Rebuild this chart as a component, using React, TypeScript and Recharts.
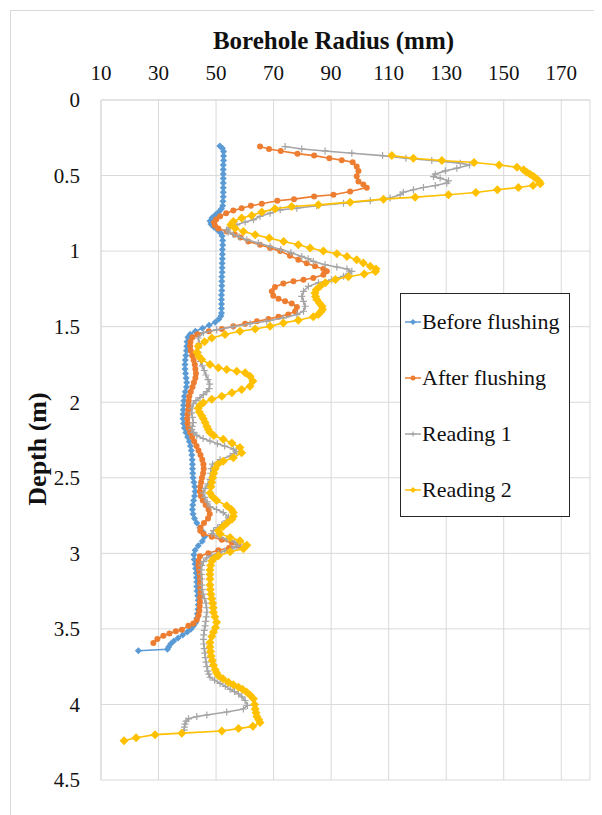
import { ScatterChart, Scatter, XAxis, YAxis, CartesianGrid, Legend } from "recharts";

// [depth (m), radius (mm)]
const BEFORE: [number, number][] = [
  [0.305, 51.3], [0.32, 52.2], [0.34, 52.6], [0.37, 52.6], [0.4, 52.6], [0.43, 52.5], [0.46, 52.5], [0.49, 52.5],
  [0.52, 52.5], [0.55, 52.5], [0.58, 52.5], [0.61, 52.5], [0.64, 52.5], [0.67, 52.4], [0.7, 52.3], [0.72, 51.9],
  [0.74, 51.0], [0.76, 49.8], [0.78, 48.6], [0.8, 47.9], [0.82, 48.2], [0.84, 49.2], [0.86, 50.5], [0.88, 51.6],
  [0.9, 52.1], [0.93, 52.3], [0.96, 52.3], [0.99, 52.2], [1.02, 52.2], [1.05, 52.2], [1.08, 52.1], [1.11, 52.1],
  [1.14, 52.1], [1.17, 52.0], [1.2, 52.0], [1.23, 52.0], [1.26, 52.0], [1.29, 51.9], [1.32, 51.9], [1.35, 51.9],
  [1.38, 51.9], [1.41, 51.9], [1.43, 51.7], [1.45, 51.0], [1.47, 49.7], [1.49, 47.6], [1.51, 45.3], [1.53, 42.8],
  [1.55, 41.0], [1.57, 40.2], [1.6, 39.9], [1.63, 39.8], [1.66, 39.7], [1.69, 39.5], [1.72, 39.3], [1.75, 39.2],
  [1.78, 39.2], [1.81, 39.4], [1.84, 39.6], [1.87, 39.8], [1.9, 39.7], [1.93, 39.3], [1.96, 39.0], [1.99, 38.8],
  [2.02, 38.7], [2.05, 38.6], [2.08, 38.5], [2.11, 38.5], [2.14, 38.7], [2.17, 39.0], [2.2, 39.5], [2.23, 40.1],
  [2.26, 40.7], [2.29, 41.1], [2.32, 41.4], [2.35, 41.6], [2.38, 41.7], [2.41, 41.8], [2.44, 41.8], [2.47, 41.9],
  [2.5, 42.0], [2.53, 42.3], [2.56, 42.6], [2.59, 42.7], [2.62, 42.5], [2.65, 42.2], [2.68, 41.9], [2.71, 41.8],
  [2.74, 42.0], [2.77, 42.5], [2.8, 43.3], [2.83, 44.4], [2.86, 45.5], [2.89, 46.0], [2.92, 45.2], [2.95, 43.8],
  [2.98, 42.7], [3.01, 42.3], [3.04, 42.4], [3.07, 42.7], [3.1, 42.9], [3.13, 43.1], [3.16, 43.2], [3.19, 43.3],
  [3.22, 43.3], [3.25, 43.4], [3.28, 43.6], [3.31, 43.8], [3.34, 43.8], [3.37, 43.7], [3.4, 43.5], [3.43, 43.3],
  [3.46, 42.9], [3.48, 42.2], [3.5, 41.3], [3.52, 40.0], [3.54, 38.4], [3.56, 36.8], [3.58, 35.3], [3.6, 34.2],
  [3.62, 33.5], [3.635, 33.1], [3.645, 23.0],
];

const AFTER: [number, number][] = [
  [0.308, 65.3], [0.324, 68.4], [0.337, 72.5], [0.355, 78.3], [0.368, 84.1], [0.385, 89.4], [0.398, 93.7],
  [0.412, 97.5], [0.44, 98.9], [0.47, 99.5], [0.505, 98.9], [0.54, 99.5], [0.56, 101.2], [0.58, 102.4],
  [0.606, 96.6], [0.627, 90.8], [0.638, 84.1], [0.656, 77.1], [0.667, 71.3], [0.687, 65.9], [0.7, 62.1],
  [0.716, 58.9], [0.731, 56.0], [0.749, 53.5], [0.77, 51.4], [0.79, 50.0], [0.81, 49.3], [0.83, 49.6],
  [0.85, 50.8], [0.87, 53.7], [0.89, 56.5], [0.91, 58.5], [0.936, 61.2], [0.958, 65.3], [0.98, 68.8],
  [1.0, 72.3], [1.03, 75.7], [1.057, 78.6], [1.08, 81.5], [1.1, 84.4], [1.118, 87.3], [1.134, 88.5],
  [1.156, 87.3], [1.178, 83.8], [1.19, 80.4], [1.2, 76.9], [1.215, 73.4], [1.237, 70.5], [1.266, 69.4],
  [1.295, 69.9], [1.316, 71.7], [1.332, 74.0], [1.347, 76.3], [1.37, 78.1], [1.398, 77.5], [1.42, 75.1],
  [1.435, 71.7], [1.45, 68.2], [1.464, 64.2], [1.48, 60.1], [1.497, 56.0], [1.515, 52.0], [1.53, 47.5],
  [1.55, 43.5], [1.57, 41.8], [1.6, 41.1], [1.63, 41.0], [1.66, 41.2], [1.69, 41.7], [1.72, 42.2], [1.75, 42.6],
  [1.78, 42.8], [1.81, 43.0], [1.84, 42.8], [1.87, 42.3], [1.9, 41.8], [1.93, 41.2], [1.96, 40.7], [1.99, 40.5],
  [2.02, 40.4], [2.05, 40.3], [2.08, 40.1], [2.11, 40.0], [2.14, 40.1], [2.17, 40.4], [2.2, 41.0], [2.23, 41.7],
  [2.26, 42.4], [2.29, 43.2], [2.32, 43.9], [2.35, 44.6], [2.38, 45.2], [2.41, 45.6], [2.44, 45.7], [2.47, 45.5],
  [2.5, 45.1], [2.53, 44.8], [2.56, 44.5], [2.59, 44.4], [2.62, 44.7], [2.65, 45.4], [2.68, 46.4], [2.71, 47.4],
  [2.74, 47.8], [2.77, 47.2], [2.8, 45.8], [2.83, 44.6], [2.85, 44.5], [2.87, 45.6], [2.89, 48.5], [2.91, 52.0],
  [2.93, 55.5], [2.95, 57.8], [2.965, 54.5], [2.98, 50.8], [3.0, 47.3], [3.02, 44.4], [3.05, 43.9], [3.08, 43.9],
  [3.11, 44.1], [3.14, 44.3], [3.17, 44.4], [3.2, 44.4], [3.23, 44.5], [3.26, 44.6], [3.29, 44.5], [3.32, 44.4],
  [3.35, 44.3], [3.38, 44.2], [3.41, 43.9], [3.44, 43.3], [3.465, 42.1], [3.48, 40.4], [3.505, 38.1],
  [3.516, 36.0], [3.53, 33.8], [3.545, 31.7], [3.567, 29.6], [3.593, 28.2],
];

const READING1: [number, number][] = [
  [0.308, 74.0], [0.324, 79.8], [0.337, 87.9], [0.352, 97.2], [0.368, 107.9], [0.385, 116.0], [0.4, 125.0],
  [0.418, 134.9], [0.43, 138.1], [0.451, 133.7], [0.469, 129.7], [0.491, 126.2], [0.507, 125.6], [0.517, 127.9],
  [0.535, 130.8], [0.55, 130.2], [0.566, 126.2], [0.579, 122.1], [0.594, 118.6], [0.61, 115.1], [0.627, 114.0],
  [0.649, 110.5], [0.667, 103.6], [0.683, 94.3], [0.7, 85.0], [0.716, 78.1], [0.727, 72.3], [0.749, 68.8],
  [0.77, 65.3], [0.793, 63.0], [0.808, 60.1], [0.826, 57.2], [0.843, 54.9], [0.86, 53.7], [0.875, 54.2],
  [0.89, 56.0], [0.905, 58.0], [0.925, 60.7], [0.947, 64.7], [0.97, 68.8], [0.99, 72.5], [1.01, 76.0],
  [1.035, 79.8], [1.05, 82.0], [1.068, 83.8], [1.09, 87.9], [1.105, 92.0], [1.118, 95.5], [1.134, 97.2],
  [1.15, 96.0], [1.167, 94.3], [1.19, 90.2], [1.21, 85.6], [1.233, 82.1], [1.266, 80.4], [1.3, 79.8],
  [1.332, 80.4], [1.365, 81.0], [1.398, 80.4], [1.42, 78.1], [1.442, 73.4], [1.464, 67.6], [1.48, 61.8],
  [1.5, 56.0], [1.52, 50.2], [1.54, 45.6], [1.575, 43.8], [1.61, 44.2], [1.64, 43.9], [1.67, 43.8], [1.7, 44.1],
  [1.73, 44.6], [1.76, 45.2], [1.79, 45.9], [1.82, 46.5], [1.85, 47.2], [1.88, 47.8], [1.91, 47.6], [1.93, 46.8],
  [1.95, 45.6], [1.97, 44.4], [1.99, 43.0], [2.01, 42.1], [2.04, 41.6], [2.07, 41.5], [2.1, 41.8], [2.135, 42.1],
  [2.16, 41.7], [2.18, 41.5], [2.2, 42.2], [2.22, 43.3], [2.24, 45.5], [2.257, 47.9], [2.275, 50.5], [2.29, 53.0],
  [2.31, 56.0], [2.325, 57.0], [2.34, 56.3], [2.356, 54.9], [2.38, 51.4], [2.41, 48.8], [2.44, 48.3],
  [2.47, 48.1], [2.51, 47.9], [2.54, 47.2], [2.57, 46.2], [2.6, 45.6], [2.63, 46.1], [2.66, 46.9], [2.69, 47.9],
  [2.71, 50.2], [2.73, 52.5], [2.76, 54.3], [2.785, 53.5], [2.81, 52.0], [2.83, 50.5], [2.85, 49.1], [2.87, 48.5],
  [2.89, 51.0], [2.906, 53.7], [2.925, 56.5], [2.94, 58.3], [2.955, 57.0], [2.97, 55.5], [2.985, 53.0],
  [3.0, 50.8], [3.015, 48.5], [3.03, 46.8], [3.055, 45.6], [3.08, 45.0], [3.11, 44.9], [3.14, 44.9], [3.17, 45.0],
  [3.21, 45.0], [3.24, 45.2], [3.27, 45.5], [3.3, 46.0], [3.33, 46.5], [3.36, 46.7], [3.39, 46.8], [3.42, 46.6],
  [3.45, 46.4], [3.48, 46.2], [3.51, 45.9], [3.54, 45.7], [3.57, 45.6], [3.6, 45.7], [3.63, 45.9], [3.66, 46.1],
  [3.69, 46.3], [3.72, 46.5], [3.75, 46.8], [3.78, 47.1], [3.8, 47.5], [3.82, 47.9], [3.84, 49.5], [3.86, 51.4],
  [3.88, 53.2], [3.9, 54.9], [3.915, 56.4], [3.93, 57.8], [3.95, 59.0], [3.974, 60.1], [4.007, 60.9],
  [4.03, 59.5], [4.05, 53.7], [4.07, 46.8], [4.08, 43.3], [4.095, 40.4], [4.11, 39.6], [4.13, 39.2], [4.15, 39.0],
  [4.17, 38.9],
];

const READING2: [number, number][] = [
  [0.368, 111.1], [0.385, 118.6], [0.4, 128.5], [0.414, 139.7], [0.43, 148.4], [0.445, 154.6], [0.462, 156.9],
  [0.478, 158.0], [0.491, 159.2], [0.506, 160.4], [0.522, 161.5], [0.539, 162.4], [0.555, 162.7], [0.566, 160.2],
  [0.579, 155.1], [0.594, 147.8], [0.612, 140.3], [0.627, 130.8], [0.643, 119.2], [0.656, 108.2], [0.676, 96.6],
  [0.694, 85.6], [0.705, 76.3], [0.72, 70.5], [0.742, 65.9], [0.764, 62.4], [0.781, 58.9], [0.804, 56.0],
  [0.826, 55.1], [0.848, 56.6], [0.87, 59.5], [0.892, 63.6], [0.914, 68.5], [0.936, 73.5], [0.958, 78.6],
  [0.98, 82.7], [1.0, 87.3], [1.017, 92.0], [1.035, 95.5], [1.057, 98.9], [1.078, 101.2], [1.1, 103.6],
  [1.118, 105.6], [1.135, 105.4], [1.152, 101.5], [1.17, 96.0], [1.188, 91.5], [1.21, 88.0], [1.233, 86.2],
  [1.255, 84.8], [1.277, 84.4], [1.3, 84.6], [1.32, 85.0], [1.345, 86.0], [1.365, 86.8], [1.385, 87.0],
  [1.4, 86.5], [1.42, 85.5], [1.435, 83.8], [1.457, 78.6], [1.475, 73.4], [1.497, 68.8], [1.515, 63.6],
  [1.53, 58.3], [1.552, 53.1], [1.575, 48.5], [1.6, 46.0], [1.63, 43.8], [1.67, 43.3], [1.695, 44.0],
  [1.717, 45.0], [1.75, 47.9], [1.772, 50.8], [1.783, 53.7], [1.795, 57.2], [1.805, 60.1], [1.828, 61.8],
  [1.86, 62.8], [1.894, 61.8], [1.915, 58.9], [1.937, 55.5], [1.96, 52.0], [1.98, 48.5], [2.003, 45.6],
  [2.02, 44.4], [2.04, 43.8], [2.065, 44.2], [2.09, 45.0], [2.11, 45.6], [2.135, 46.2], [2.16, 46.8], [2.18, 47.3],
  [2.2, 47.9], [2.22, 49.2], [2.245, 52.5], [2.27, 55.5], [2.3, 58.3], [2.334, 58.9], [2.367, 56.0], [2.39, 52.5],
  [2.41, 50.6], [2.44, 49.7], [2.47, 49.2], [2.5, 48.8], [2.53, 48.5], [2.56, 48.2], [2.6, 47.9], [2.625, 48.8],
  [2.65, 50.2], [2.685, 53.7], [2.71, 55.3], [2.73, 56.0], [2.755, 56.0], [2.774, 55.5], [2.8, 53.8], [2.82, 52.5],
  [2.85, 50.8], [2.87, 51.4], [2.895, 54.9], [2.917, 58.3], [2.946, 60.7], [2.97, 59.5], [2.99, 54.9],
  [3.016, 50.8], [3.035, 49.3], [3.05, 48.5], [3.08, 48.1], [3.11, 47.9], [3.14, 47.9], [3.17, 47.9], [3.21, 47.9],
  [3.24, 48.0], [3.27, 48.2], [3.3, 48.5], [3.33, 48.8], [3.36, 49.0], [3.39, 49.1], [3.42, 49.6], [3.456, 50.2],
  [3.49, 49.8], [3.52, 49.1], [3.55, 48.5], [3.59, 47.9], [3.62, 47.9], [3.65, 48.1], [3.68, 48.3], [3.71, 48.7],
  [3.74, 49.1], [3.77, 49.7], [3.79, 50.2], [3.81, 50.8], [3.83, 52.4], [3.853, 54.3], [3.87, 56.0],
  [3.886, 57.8], [3.9, 59.2], [3.92, 60.7], [3.94, 62.0], [3.963, 63.0], [4.0, 63.4], [4.03, 63.6], [4.055, 63.9],
  [4.08, 64.2], [4.1, 64.8], [4.12, 65.3], [4.145, 62.8], [4.16, 57.8], [4.176, 52.0], [4.19, 38.1], [4.2, 28.8],
  [4.22, 22.2], [4.24, 18.0],
];

const RADIUS_TICKS = [10, 30, 50, 70, 90, 110, 130, 150, 170];
const DEPTH_TICKS = [0, 0.5, 1, 1.5, 2, 2.5, 3, 3.5, 4, 4.5];

const FONT = '"Liberation Serif", "Times New Roman", serif';
const tickStyle = { fontFamily: FONT, fontSize: 21, fill: "#111" };

type MarkerKind = "diamond" | "circle" | "plus";

const SERIES: { name: string; data: [number, number][]; color: string; marker: MarkerKind; size: number }[] = [
  { name: "Before flushing", data: BEFORE, color: "#5B9BD5", marker: "diamond", size: 7 },
  { name: "After flushing", data: AFTER, color: "#ED7D31", marker: "circle", size: 6 },
  { name: "Reading 1", data: READING1, color: "#A5A5A5", marker: "plus", size: 7 },
  { name: "Reading 2", data: READING2, color: "#FFC000", marker: "diamond", size: 9 },
];

function Marker({ kind, cx, cy, size, color }: { kind: MarkerKind; cx: number; cy: number; size: number; color: string }) {
  const h = size / 2;
  if (kind === "circle") return <circle cx={cx} cy={cy} r={h} fill={color} />;
  if (kind === "plus") {
    return <path d={`M${cx - h},${cy}H${cx + h}M${cx},${cy - h}V${cy + h}`} stroke={color} strokeWidth={1.2} fill="none" />;
  }
  return <path d={`M${cx},${cy - h}L${cx + h},${cy}L${cx},${cy + h}L${cx - h},${cy}Z`} fill={color} />;
}

// ticks drawn by hand so the serif face sticks
const RadiusTick = (p: any) => (
  <text x={p.x} y={p.y} textAnchor="middle" style={tickStyle}>
    {p.payload.value}
  </text>
);

const DepthTick = (p: any) => (
  <text x={p.x} y={p.y} dy="0.35em" textAnchor="end" style={tickStyle}>
    {p.payload.value}
  </text>
);

function LegendBox() {
  return (
    <div
      style={{
        width: 170,
        height: 224,
        boxSizing: "border-box",
        border: "1px solid #262626",
        background: "#fff",
        fontFamily: FONT,
        fontSize: 22,
        color: "#111",
      }}
    >
      {SERIES.map((s) => (
        <div key={s.name} style={{ height: 56, display: "flex", alignItems: "center" }}>
          <svg width={21} height={12} style={{ flex: "none" }}>
            <line x1={4} y1={6} x2={20} y2={6} stroke={s.color} strokeWidth={1.5} />
            <Marker kind={s.marker} cx={12} cy={6} size={s.marker === "diamond" ? 6 : 5} color={s.color} />
          </svg>
          <span style={{ whiteSpace: "nowrap" }}>{s.name}</span>
        </div>
      ))}
    </div>
  );
}

export default function App() {
  return (
    <div style={{ position: "relative", width: 594, height: 807, overflow: "hidden", background: "#fff" }}>
      <div
        style={{
          position: "absolute",
          left: 2,
          top: 2,
          width: 700,
          height: 900,
          borderTop: "1px solid #d9d9d9",
          borderLeft: "1px solid #d9d9d9",
        }}
      />
      <ScatterChart width={594} height={800} margin={{ top: 52, right: 12, bottom: 28, left: 33 }}>
        <CartesianGrid stroke="#d9d9d9" strokeWidth={1} />
        <XAxis
          type="number"
          dataKey="r"
          orientation="top"
          domain={[10, 180]}
          ticks={RADIUS_TICKS}
          height={40}
          tick={RadiusTick}
          tickSize={0}
          tickMargin={20}
          tickLine={false}
          axisLine={{ stroke: "#d9d9d9" }}
          allowDataOverflow
        />
        <YAxis
          type="number"
          dataKey="d"
          domain={[0, 4.5]}
          ticks={DEPTH_TICKS}
          reversed
          width={60}
          tick={DepthTick}
          tickSize={0}
          tickMargin={21}
          tickLine={false}
          axisLine={{ stroke: "#d9d9d9" }}
          allowDataOverflow
        />
        {SERIES.map((s) => (
          <Scatter
            key={s.name}
            name={s.name}
            data={s.data.map(([d, r]) => ({ d, r }))}
            fill={s.color}
            line={{ stroke: s.color, strokeWidth: 1.6 }}
            lineType="joint"
            shape={(p: any) => <Marker kind={s.marker} cx={p.cx} cy={p.cy} size={s.size} color={s.color} />}
            isAnimationActive={false}
          />
        ))}
        <Legend
          layout="vertical"
          align="center"
          verticalAlign="middle"
          content={() => <LegendBox />}
          wrapperStyle={{ left: 392, top: 285, width: 170, height: 224 }}
        />
      </ScatterChart>
      <div
        style={{
          position: "absolute",
          left: 325.5,
          top: 32,
          transform: "translate(-50%, -50%)",
          fontFamily: FONT,
          fontWeight: "bold",
          fontSize: 25,
          lineHeight: 1,
          whiteSpace: "nowrap",
          color: "#111",
        }}
      >
        Borehole Radius (mm)
      </div>
      <div
        style={{
          position: "absolute",
          left: 30,
          top: 441,
          transform: "translate(-50%, -50%) rotate(-90deg)",
          fontFamily: FONT,
          fontWeight: "bold",
          fontSize: 26,
          lineHeight: 1,
          whiteSpace: "nowrap",
          color: "#111",
        }}
      >
        Depth (m)
      </div>
    </div>
  );
}
